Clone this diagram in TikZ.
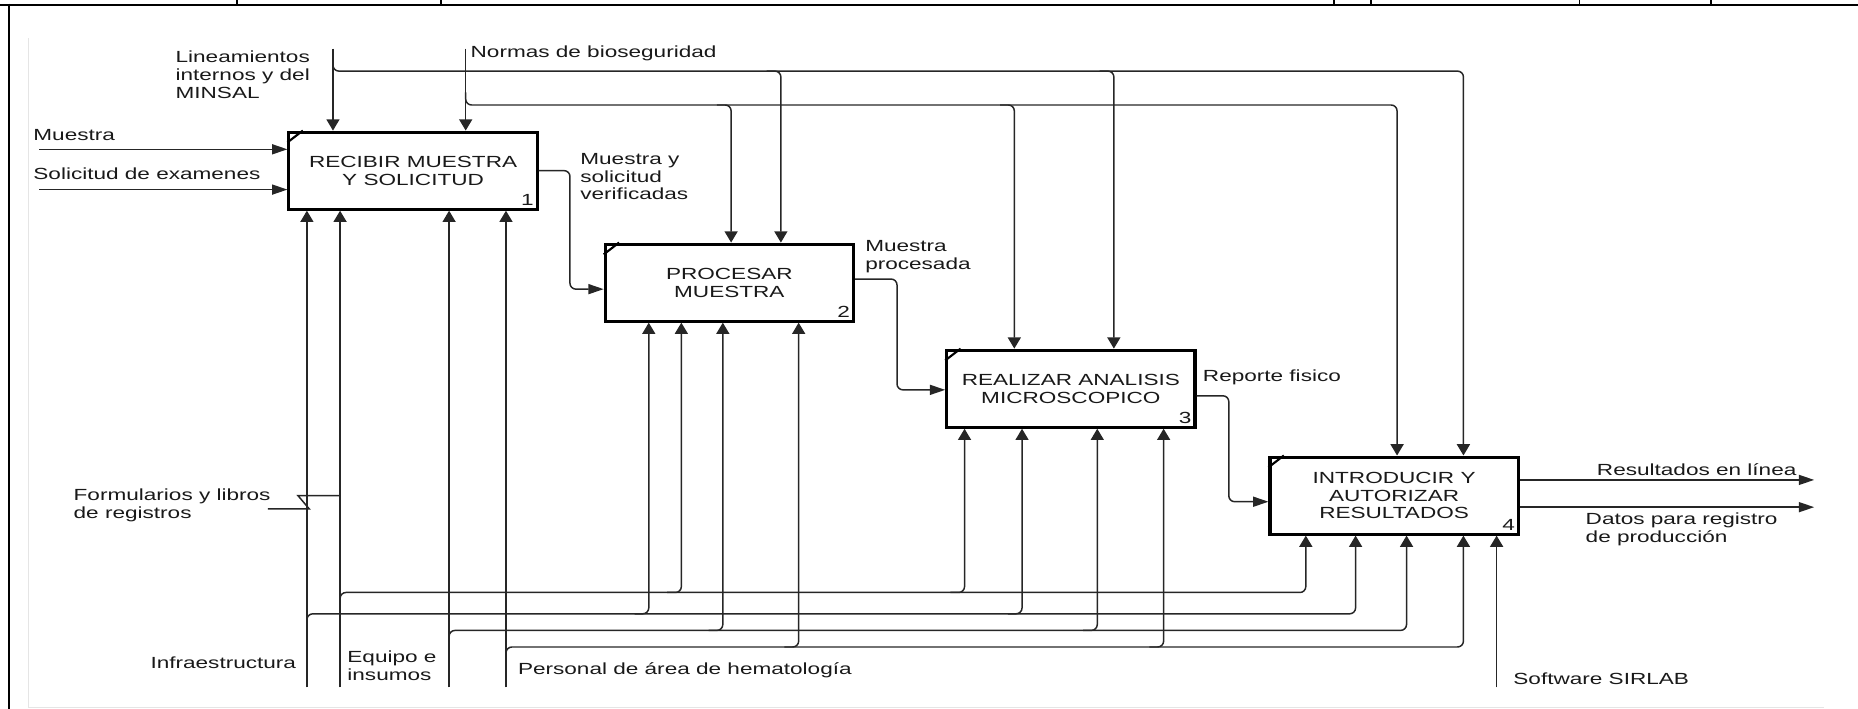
\documentclass[tikz,border=0pt]{standalone}
\usepackage{fontspec}
\setmainfont[FakeStretch=1.4]{Liberation Sans}
\usetikzlibrary{arrows.meta}

\begin{document}
\begin{tikzpicture}[
    x=1pt, y=-1pt,
    font=\fontsize{13.6}{15}\selectfont,
    every node/.style={text=black!90},
    proc/.style={draw=black, line width=2.6pt, minimum width=209.5pt,
        minimum height=65pt, align=center, inner sep=0pt},
    num/.style={anchor=south east, inner sep=4pt},
    lbl/.style={inner sep=0pt, align=left},
    flow/.style={draw=black!85, line width=1.25pt, rounded corners=5pt},
    tov/.style={flow, -{Triangle[length=9.5pt, width=11pt]}},
    toh/.style={flow, -{Triangle[length=13pt, width=8.5pt]}}
]

% Sheet frame
\useasboundingbox (0,0) rectangle (1568,598);
\draw[line width=2pt] (0,4) -- (1568,4);
\foreach \x in {200,372,1126,1157,1333,1444}
    \draw[line width=1.5pt] (\x,0) -- (\x,4);
\draw[line width=2.5pt] (7.6,3) -- (7.6,598);
\draw[black!10] (24,32) -- (24,597) -- (1539,597);

% Activity boxes
\node[proc, label={[num]south east:1}] (b1) at (348.6,144) {RECIBIR MUESTRA\\Y SOLICITUD};
\node[proc, label={[num]south east:2}] (b2) at (615.5,238.5) {PROCESAR\\MUESTRA};
\node[proc, label={[num]south east:3}] (b3) at (903.7,328) {REALIZAR ANALISIS\\MICROSCOPICO};
\node[proc, label={[num]south east:4}] (b4) at (1176.5,418.2) {INTRODUCIR Y\\AUTORIZAR\\RESULTADOS};
\foreach \b in {b1,b2,b3,b4}
    \draw[line width=1.8pt] ([yshift=-10pt]\b.north west) -- ([xshift=13pt]\b.north west);

% Inputs
\coordinate (muestra) at (33,126);
\coordinate (solicitud) at (33,160);
\draw[toh] (muestra) -- (muestra -| b1.west);
\draw[toh] (solicitud) -- (solicitud -| b1.west);
\node[lbl, anchor=west] (lmuestra) at (28,114) {Muestra};
\node[lbl, anchor=west] (lsolicitud) at (28,147) {Solicitud de examenes};

% Controls
\coordinate (linea) at (281,41);
\coordinate (normas) at (393,41);
\coordinate (la) at (659,60);
\coordinate (lb) at (940,60);
\coordinate (lc) at (1235,60);
\coordinate (na) at (617,88.6);
\coordinate (nb) at (856,88.6);
\coordinate (nc) at (1179,88.6);
\draw[tov] (linea) -- (linea |- b1.north);
\draw[tov] (normas) -- (normas |- b1.north);
\draw[tov] (281,50) |- (lc) -- (lc |- b4.north);
\draw[tov] (393,78) |- (nc) -- (nc |- b4.north);
\foreach \c/\b in {la/b2, lb/b3, na/b2, nb/b3}
    \draw[tov] ([xshift=-12pt]\c) -- (\c) -- (\c |- \b.north);
\node[lbl, anchor=west] (llinea) at (148,63) {Lineamientos\\internos y del\\MINSAL};
\node[lbl, anchor=west] (lnormas) at (397,45) {Normas de bioseguridad};

% Flows between activities
\coordinate (v1) at (481,244);
\coordinate (v2) at (757,329);
\coordinate (v3) at (1037,423.4);
\draw[toh] (b1.east) -| (v1) -- (v1 -| b2.west);
\draw[toh] ([yshift=3pt]b2.east) -| (v2) -- (v2 -| b3.west);
\draw[toh] ([yshift=-6pt]b3.east) -| (v3) -- (v3 -| b4.west);
\node[lbl, anchor=west] (lverif) at (489.6,149) {Muestra y\\solicitud\\verificadas};
\node[lbl, anchor=west] (lproc) at (730,216.5) {Muestra\\procesada};
\node[lbl, anchor=west] (lrep) at (1015,318.7) {Reporte fisico};

% Outputs
\coordinate (res) at (1531,405);
\coordinate (dat) at (1531,428);
\draw[toh] (res -| b4.east) -- (res);
\draw[toh] (dat -| b4.east) -- (dat);
\node[lbl, anchor=west] (lres) at (1347.5,396) {Resultados en línea};
\node[lbl, anchor=west] (ldat) at (1338,447) {Datos para registro\\de producción};

% Mechanisms
\coordinate (infra) at (259,580);
\coordinate (equipo) at (287,580);
\coordinate (mech) at (379,580);
\coordinate (personal) at (427,580);
\coordinate (soft) at (1263,580);
\coordinate (ia) at (547.5,518);
\coordinate (ib) at (862.5,518);
\coordinate (ic) at (1144,518);
\coordinate (ea) at (575,500);
\coordinate (eb) at (814,500);
\coordinate (ec) at (1102,500);
\coordinate (ma) at (610,532);
\coordinate (mb) at (926,532);
\coordinate (mc) at (1187,532);
\coordinate (pa) at (674,546);
\coordinate (pb) at (982,546);
\coordinate (pc) at (1235,546);
\foreach \m in {infra,equipo,mech,personal}
    \draw[tov] (\m) -- (\m |- b1.south);
\draw[tov] (soft) -- (soft |- b4.south);
\draw[tov] (259,528) |- (ic) -- (ic |- b4.south);
\draw[tov] (287,510) |- (ec) -- (ec |- b4.south);
\draw[tov] (379,542) |- (mc) -- (mc |- b4.south);
\draw[tov] (427,556) |- (pc) -- (pc |- b4.south);
\foreach \c/\b in {ia/b2, ib/b3, ea/b2, eb/b3, ma/b2, mb/b3, pa/b2, pb/b3}
    \draw[tov] ([xshift=-12pt]\c) -- (\c) -- (\c |- \b.south);

% Formularios joins the equipment line
\coordinate (form) at (226,429.5);
\draw[flow, sharp corners] (form) -- (261,429.5) -- (251.5,418.3) -- (287,418.3);
\node[lbl, anchor=west] (lform) at (62,426.7) {Formularios y libros\\de registros};

\node[lbl, anchor=east] (linfra) at (250,559) {Infraestructura};
\node[lbl, anchor=west] (lequipo) at (293,562) {Equipo e\\insumos};
\node[lbl, anchor=west] (lpers) at (437,565.6) {Personal de área de hematología};
\node[lbl, anchor=west] (lsoft) at (1277,573) {Software SIRLAB};

\end{tikzpicture}
\end{document}
